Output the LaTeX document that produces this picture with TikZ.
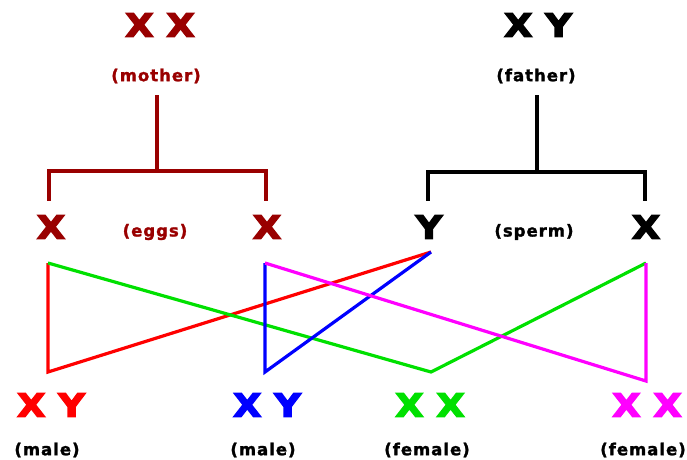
\documentclass[tikz,border=0pt]{standalone}
\usepackage{fontspec}
\setmainfont{DejaVu Sans}[BoldFont={DejaVu Sans Bold}]
\newfontfamily\chromfont{DejaVu Sans Bold}[FakeBold=4]
\newfontfamily\labelfont{DejaVu Sans Bold}[LetterSpace=6, FakeBold=1.5]
\definecolor{mom}{HTML}{990000}
\definecolor{kred}{HTML}{FF0000}
\definecolor{kblue}{HTML}{0000FF}
\definecolor{kgreen}{HTML}{00E000}
\definecolor{kmag}{HTML}{FF00FF}
\tikzset{
  chrom/.style={font=\chromfont\fontsize{32}{32}\selectfont, xscale=1.15, inner sep=0pt, anchor=center},
  tag/.style={font=\labelfont\fontsize{16.5}{16.5}\selectfont, inner sep=0pt, anchor=center},
  tree/.style={line width=3.4pt, line cap=rect},
  cross/.style={line width=3.2pt, line join=miter},
}
\begin{document}
\begin{tikzpicture}[x=1pt,y=-1pt]
\useasboundingbox (0,0) rectangle (687,459);

% parents
\node[chrom, text=mom] (mom) at (160,25) {X X};
\node[tag, text=mom] (momtag) at (156,76) {(mother)};
\node[chrom, text=black] (dad) at (538,25) {X Y};
\node[tag, text=black] (dadtag) at (536,76) {(father)};

% gametes
\node[chrom, text=mom] (egg1) at (51,227) {X};
\node[chrom, text=mom] (egg2) at (267,227) {X};
\node[tag, text=mom] (eggtag) at (155,232) {(eggs)};
\node[chrom, text=black] (sperm1) at (429,227) {Y};
\node[chrom, text=black] (sperm2) at (646,227) {X};
\node[tag, text=black] (spermtag) at (534,232) {(sperm)};

% offspring
\node[chrom, text=kred] (kid1) at (51,405) {X Y};
\node[tag, text=black] (kid1tag) at (47,450) {(male)};
\node[chrom, text=kblue] (kid2) at (267,405) {X Y};
\node[tag, text=black] (kid2tag) at (263,450) {(male)};
\node[chrom, text=kgreen] (kid3) at (430,405) {X X};
\node[tag, text=black] (kid3tag) at (427,450) {(female)};
\node[chrom, text=kmag] (kid4) at (647,405) {X X};
\node[tag, text=black] (kid4tag) at (643,450) {(female)};

% branching of the parents
\coordinate (momstem) at (157,97);
\coordinate (momfork) at (157,171);
\coordinate (momL) at (49,171);
\coordinate (momR) at (266,171);
\coordinate (momLend) at (49,199);
\coordinate (momRend) at (266,199);
\draw[tree, mom] (momstem) -- (momfork);
\draw[tree, mom] (momLend) -- (momL) -- (momR) -- (momRend);

\coordinate (dadstem) at (537,97);
\coordinate (dadfork) at (537,172);
\coordinate (dadL) at (428,172);
\coordinate (dadR) at (645,172);
\coordinate (dadLend) at (428,199);
\coordinate (dadRend) at (645,199);
\draw[tree, black] (dadstem) -- (dadfork);
\draw[tree, black] (dadLend) -- (dadL) -- (dadR) -- (dadRend);

% pairings of egg and sperm
\coordinate (e1top) at (48,263);
\coordinate (e1bot) at (48,372);
\coordinate (e2top) at (265,263);
\coordinate (e2bot) at (265,372);
\coordinate (sYtip) at (431,252);
\coordinate (sXtip) at (646,263);
\coordinate (gbot) at (431,372);
\coordinate (mbot) at (646,381);

\draw[cross, kred] (e1top) -- (e1bot) -- (sYtip);
\draw[cross, kgreen] (e1top) -- (gbot) -- (sXtip);
\draw[cross, kblue] (e2top) -- (e2bot) -- (sYtip);
\draw[cross, kmag] (e2top) -- (mbot) -- (sXtip);
\end{tikzpicture}
\end{document}
